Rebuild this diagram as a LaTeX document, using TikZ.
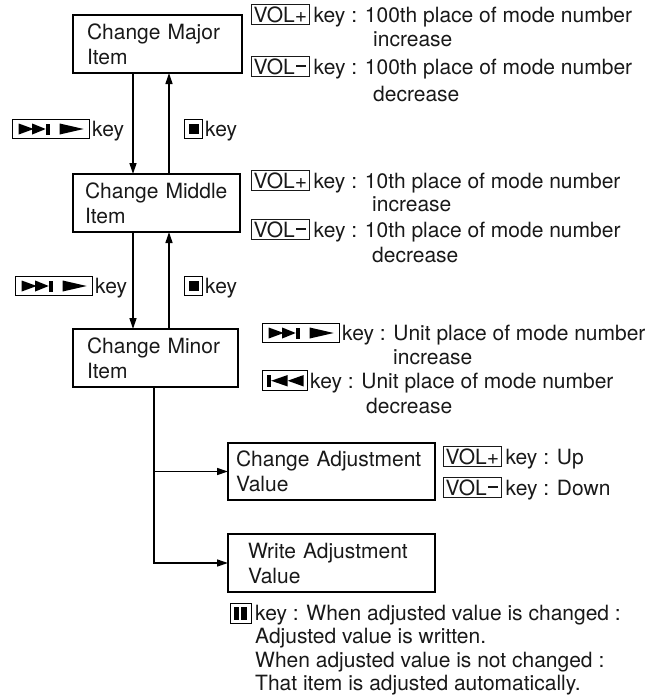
\documentclass[tikz,border=0pt]{standalone}
\usepackage{fontspec}
\setmainfont{TeX Gyre Heros}
\usetikzlibrary{arrows.meta}
\definecolor{ink}{gray}{0.1}
\setlength{\fboxsep}{1.5pt}
\setlength{\fboxrule}{1pt}
\newcommand{\kvp}{\fbox{VOL+}}
\newcommand{\kvm}{\fbox{VOL\makebox[12.3pt]{\rule[7.5pt]{10pt}{1.6pt}}}}
\newcommand{\kfwd}{\tikz[baseline=0pt,x=1pt,y=1pt]{\draw[black,line width=1pt] (0,-2) rectangle (77,17); \fill[black] (6,1.5)--(21,7)--(6,12.5)--cycle; \fill[black] (19.5,1.5)--(33,7)--(19.5,12.5)--cycle; \fill[black] (33,1.5) rectangle (37,12.5); \fill[black] (47,1.5)--(71,7)--(47,12.5)--cycle;}}
\newcommand{\kstop}{\tikz[baseline=0pt,x=1pt,y=1pt]{\draw[black,line width=1pt] (0,-2) rectangle (18,17); \fill[black] (4,2.5) rectangle (14,12.5);}}
\newcommand{\kprev}{\tikz[baseline=0pt,x=1pt,y=1pt]{\draw[black,line width=1pt] (0,-2) rectangle (45,18); \fill[black] (4,1.5) rectangle (8.5,13); \fill[black] (25,1.5)--(8.5,7.25)--(25,13)--cycle; \fill[black] (41,1.5)--(25,7.25)--(41,13)--cycle;}}
\newcommand{\kpause}{\tikz[baseline=0pt,x=1pt,y=1pt]{\draw[black,line width=1pt] (0,-3) rectangle (21,17); \fill[black] (3,0) rectangle (8.5,13.5); \fill[black] (10.5,0) rectangle (16,13.5);}}
\begin{document}
\begin{tikzpicture}[x=1pt,y=1pt,
  every node/.style={font=\fontsize{21}{25}\selectfont, text=ink},
  mbox/.style={draw=black, line width=2.9pt, anchor=north west, align=left, inner ysep=0pt, outer sep=0pt},
  txt/.style={anchor=base west, inner sep=0pt},
  conn/.style={line width=1.3pt, draw=black},
  arr/.style={conn, -{Triangle[length=11pt,width=7pt]}}]
\useasboundingbox (0,0) rectangle (652,-699);
% main boxes
\node[mbox, minimum width=169pt, minimum height=58pt, inner xsep=14pt, text width=141pt] (major) at (73,-15) {\mbox{Change Major}\\Item};
\node[mbox, minimum width=167pt, minimum height=58pt, inner xsep=12pt, text width=143pt] (middle) at (73,-174) {\mbox{Change Middle}\\Item};
\node[mbox, minimum width=165pt, minimum height=58pt, inner xsep=14pt, text width=137pt] (minor) at (73,-329) {\mbox{Change Minor}\\Item};
\node[mbox, minimum width=207pt, minimum height=57pt, inner xsep=8pt, text width=191pt] (ca) at (228,-443) {\mbox{Change Adjustment}\\Value};
\node[mbox, minimum width=207pt, minimum height=58pt, inner xsep=20pt, text width=167pt] (wa) at (228,-534) {\mbox{Write Adjustment}\\Value};
% connectors
\coordinate (xd) at (133,0);
\coordinate (xu) at (169,0);
\coordinate (xt) at (154,0);
\draw[arr] (major.south -| xd) -- (middle.north -| xd);
\draw[arr] (middle.north -| xu) -- (major.south -| xu);
\draw[arr] (middle.south -| xd) -- (minor.north -| xd);
\draw[arr] (minor.north -| xu) -- (middle.south -| xu);
\draw[arr] (minor.south -| xt) -- (xt |- wa.west) -- (wa.west);
\draw[arr] (xt |- ca.west) -- (ca.west);
% left key labels
\node[txt] (fk1) at (12,-136) {\kfwd\hspace{2pt}key};
\node[txt] (sk1) at (184,-136) {\kstop\hspace{2pt}key};
\node[txt] (fk2) at (15,-293) {\kfwd\hspace{2pt}key};
\node[txt] (sk2) at (184,-293) {\kstop\hspace{2pt}key};
% top right
\node[txt] (t1) at (251,-22) {\kvp\hspace{4pt}key : 100th place of mode number};
\node[txt] (t2) at (373,-46) {increase};
\node[txt] (t3) at (251,-74) {\kvm\hspace{4pt}key : 100th place of mode number};
\node[txt] (t4) at (373,-101) {decrease};
% middle right
\node[txt] (u1) at (251,-188) {\kvp\hspace{4pt}key : 10th place of mode number};
\node[txt] (u2) at (372,-211) {increase};
\node[txt] (u3) at (251,-237) {\kvm\hspace{4pt}key : 10th place of mode number};
\node[txt] (u4) at (372,-262) {decrease};
% minor right
\node[txt] (m1) at (262,-340) {\kfwd\hspace{2pt}key : Unit place of mode number};
\node[txt] (m2) at (393,-364) {increase};
\node[txt] (m3) at (262,-388) {\kprev\hspace{2pt}key : Unit place of mode number};
\node[txt] (m4) at (366,-413) {decrease};
% adjustment right
\node[txt] (c1) at (443,-464) {\kvp\hspace{4pt}key : Up};
\node[txt] (c2) at (443,-495) {\kvm\hspace{4pt}key : Down};
% bottom
\node[txt] (b1) at (230,-620) {\kpause\hspace{3pt}key : When adjusted value is changed :};
\node[txt] (b2) at (255,-643) {Adjusted value is written.};
\node[txt] (b3) at (255,-667) {When adjusted value is not changed :};
\node[txt] (b4) at (255,-690) {That item is adjusted automatically.};
\end{tikzpicture}
\end{document}
